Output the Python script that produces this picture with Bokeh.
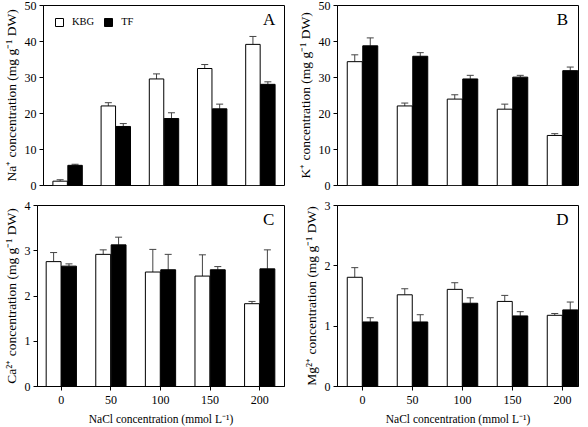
from bokeh.plotting import figure
from bokeh.layouts import column, row
from bokeh.models import (ColumnDataSource, FixedTicker, Whisker, Legend, LegendItem,
                          Label, Range1d)
from bokeh.embed import file_html
from bokeh.resources import INLINE

# ---------------- data ----------------
nacl_labels = ["0", "50", "100", "150", "200"]

na_kbg = [1.2, 22.1, 29.6, 32.5, 39.2]
na_kbg_err = [0.4, 0.9, 1.4, 1.1, 2.2]
na_tf = [5.6, 16.4, 18.6, 21.3, 28.1]
na_tf_err = [0.3, 0.8, 1.6, 1.3, 0.7]

k_kbg = [34.4, 22.1, 24.0, 21.2, 13.9]
k_kbg_err = [1.9, 0.8, 1.2, 1.4, 0.5]
k_tf = [38.8, 35.9, 29.6, 30.1, 31.9]
k_tf_err = [2.2, 1.0, 1.0, 0.5, 1.0]

ca_kbg = [2.76, 2.92, 2.53, 2.44, 1.83]
ca_kbg_err = [0.20, 0.10, 0.50, 0.47, 0.05]
ca_tf = [2.66, 3.13, 2.58, 2.58, 2.60]
ca_tf_err = [0.05, 0.17, 0.34, 0.07, 0.42]

mg_kbg = [1.81, 1.52, 1.61, 1.41, 1.18]
mg_kbg_err = [0.16, 0.10, 0.11, 0.10, 0.03]
mg_tf = [1.07, 1.07, 1.38, 1.17, 1.27]
mg_tf_err = [0.07, 0.12, 0.09, 0.07, 0.13]

series_names = ["KBG", "TF"]
FONT = "Liberation Serif"
BW = 0.3
TICK_PX = 4


def panel(kbg, kbg_err, tf, tf_err, ymax, ystep, ylabel, letter,
          width, height, xr, borders, show_xlabels, legend=False):
    bl, br, bt, bb = borders
    p = figure(width=width, height=height, output_backend="svg", toolbar_location=None,
               x_range=Range1d(*xr), y_range=Range1d(0, ymax),
               min_border_left=bl, min_border_right=br, min_border_top=bt,
               min_border_bottom=bb)
    idx = list(range(len(nacl_labels)))
    x1 = [i - BW / 2 - 0.005 for i in idx]
    x2 = [i + BW / 2 + 0.005 for i in idx]
    src = ColumnDataSource(dict(x1=x1, x2=x2, kbg=kbg, tf=tf,
                                kbg_up=[v + e for v, e in zip(kbg, kbg_err)],
                                tf_up=[v + e for v, e in zip(tf, tf_err)]))
    for xs, base, up in (("x1", "kbg", "kbg_up"), ("x2", "tf", "tf_up")):
        w = Whisker(base=xs, lower=base, upper=up, source=src, dimension="height",
                    line_color="#444444", line_width=1, lower_head=None)
        w.upper_head.size = 7
        w.upper_head.line_color = "#444444"
        p.add_layout(w)
    r1 = p.vbar(x="x1", top="kbg", width=BW, source=src, fill_color="white",
                line_color="black", line_width=1)
    r2 = p.vbar(x="x2", top="tf", width=BW, source=src, fill_color="black",
                line_color="black", line_width=1)

    p.xgrid.visible = False
    p.ygrid.visible = False
    p.outline_line_color = "black"
    p.outline_line_width = 1
    p.background_fill_color = "white"
    p.border_fill_color = "white"

    p.xaxis.ticker = FixedTicker(ticks=idx)
    p.xaxis.major_label_overrides = {i: lab for i, lab in enumerate(nacl_labels)}
    p.yaxis.ticker = FixedTicker(ticks=[i * ystep for i in range(int(round(ymax / ystep)) + 1)])
    for ax in (p.xaxis[0], p.yaxis[0]):
        ax.axis_line_color = "black"
        ax.major_tick_line_color = "black"
        ax.major_tick_out = TICK_PX
        ax.major_tick_in = 0
        ax.minor_tick_line_color = None
        ax.major_label_text_font = FONT
        ax.major_label_text_font_size = "12px"
        ax.major_label_text_color = "black"
        ax.axis_label_text_font = FONT
        ax.axis_label_text_font_style = "normal"
        ax.axis_label_text_color = "black"
        ax.major_label_standoff = 3
    p.yaxis.axis_label = ylabel
    p.yaxis.axis_label_text_font_size = "13.5px"
    p.yaxis.axis_label_standoff = 3
    if show_xlabels:
        p.xaxis.axis_label = "NaCl concentration (mmol L\u207b\u00b9)"
        p.xaxis.axis_label_text_font_size = "11.5px"
        p.xaxis.major_label_standoff = 5
        p.xaxis.axis_label_standoff = 6
    else:
        # x axis without labels: only outward tick marks below the frame
        p.xaxis.visible = False
        frame_h = height - bt - bb
        tick_len = TICK_PX * ymax / frame_h
        tsrc = ColumnDataSource(dict(x=idx, lo=[-tick_len] * len(idx), hi=[0] * len(idx)))
        t = Whisker(base="x", lower="lo", upper="hi", source=tsrc, dimension="height",
                    line_color="black", line_width=1, lower_head=None, upper_head=None,
                    level="annotation")
        p.add_layout(t)

    p.add_layout(Label(x=xr[1] - 0.32, y=ymax * 0.92, text=letter, text_font=FONT,
                       text_font_size="17px", text_align="center",
                       text_baseline="middle", text_color="black"))
    if legend:
        lg = Legend(items=[LegendItem(label=series_names[0], renderers=[r1]),
                           LegendItem(label=series_names[1], renderers=[r2])],
                    orientation="horizontal", location="top_left")
        lg.border_line_color = None
        lg.background_fill_alpha = 0
        lg.margin = 11
        lg.padding = 8
        lg.glyph_width = 10
        lg.glyph_height = 10
        lg.label_height = 10
        lg.label_width = 0
        lg.label_standoff = 8
        lg.spacing = 9
        lg.label_text_font = FONT
        lg.label_text_font_size = "10.5px"
        lg.label_text_color = "black"
        lg.label_text_baseline = "middle"
        p.add_layout(lg)
    return p


pa = panel(na_kbg, na_kbg_err, na_tf, na_tf_err, 50, 10,
           "Na\u207a concentration (mg g\u207b\u00b9 DW)", "A",
           294, 195, (-0.5, 4.5), (34, 10, 5, 10), False, legend=True)
pb = panel(k_kbg, k_kbg_err, k_tf, k_tf_err, 50, 10,
           "K\u207a concentration (mg g\u207b\u00b9 DW)", "B",
           294, 195, (-0.5, 4.32), (43, 10, 5, 10), False)
pc = panel(ca_kbg, ca_kbg_err, ca_tf, ca_tf_err, 4, 1,
           "Ca\u00b2\u207a concentration (mg g\u207b\u00b9 DW)", "C",
           294, 232, (-0.48, 4.5), (35, 10, 10, 41), True)
pd = panel(mg_kbg, mg_kbg_err, mg_tf, mg_tf_err, 3, 1,
           "Mg\u00b2\u207a concentration (mg g\u207b\u00b9 DW)", "D",
           294, 232, (-0.5, 4.32), (43, 10, 10, 41), True)

layout = column(row(pa, pb, spacing=0), row(pc, pd, spacing=0), spacing=0)
open("out.html", "w").write(file_html(layout, INLINE))
